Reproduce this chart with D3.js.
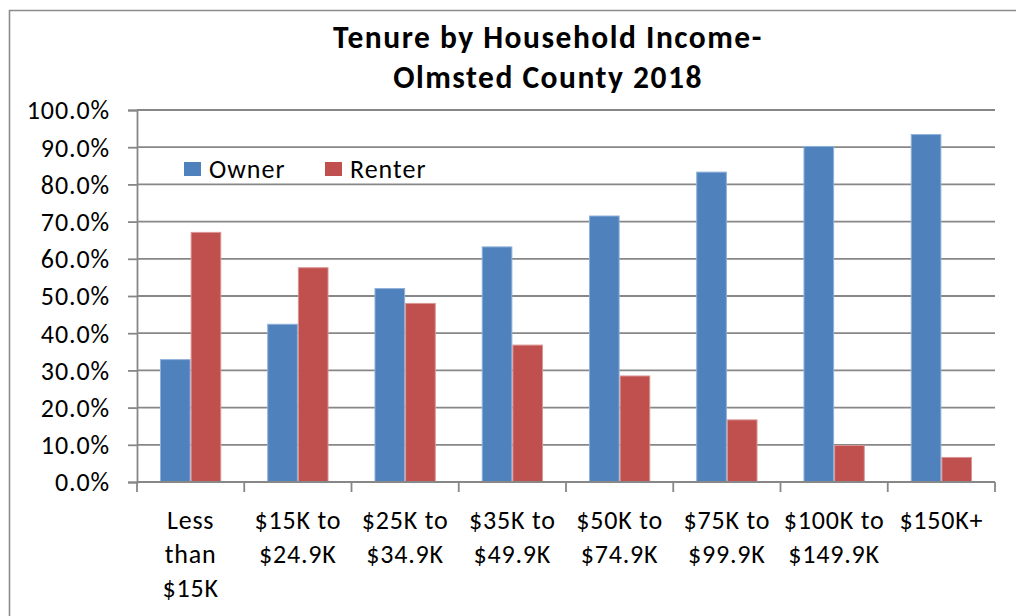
<!DOCTYPE html>
<html>
<head>
<meta charset="utf-8">
<script src="https://cdn.jsdelivr.net/npm/d3@7"></script>
<style>
  html, body { margin: 0; padding: 0; background: #fff; }
  svg { display: block; }
  text { font-family: Carlito, Lato, "Open Sans", sans-serif; fill: #000; }
</style>
</head>
<body>
<svg id="chart" width="1016" height="616"></svg>
<script>
// Household income brackets (multi-line labels)
const categories = [
  ["Less", "than", "$15K"],
  ["$15K to", "$24.9K"],
  ["$25K to", "$34.9K"],
  ["$35K to", "$49.9K"],
  ["$50K to", "$74.9K"],
  ["$75K to", "$99.9K"],
  ["$100K to", "$149.9K"],
  ["$150K+"]
];
// Share of households (%) by tenure
const owner  = [32.9, 42.4, 52.0, 63.2, 71.5, 83.3, 90.2, 93.4];
const renter = [67.1, 57.6, 48.0, 36.8, 28.5, 16.7, 9.8, 6.6];
const seriesNames = ["Owner", "Renter"];
const seriesColors = ["#4F81BD", "#C0504D"];
const seriesStroke = ["#8FB0D9", "#D99594"];
const yTicks = [0, 10, 20, 30, 40, 50, 60, 70, 80, 90, 100];
const titleLines = ["Tenure by Household Income-", "Olmsted County 2018"];

const svg = d3.select("#chart");
const plot = { left: 137, right: 995, top: 110, bottom: 482 };
const grid = "#878787";

// Chart frame
svg.append("path")
  .attr("d", `M9.5,${630} V10.5 H${1030}`)
  .attr("fill", "none").attr("stroke", "#8c8c8c").attr("stroke-width", 1.6);

// Title
const title = svg.append("text")
  .attr("text-anchor", "middle")
  .attr("font-weight", "bold")
  .attr("font-size", 31.5)
  .attr("letter-spacing", 1.5);
titleLines.forEach((t, i) => {
  title.append("tspan").attr("x", 548).attr("y", 48 + i * 40).text(t);
});

const keys = categories.map((c, i) => i);
const x = d3.scaleBand().domain(keys).range([plot.left, plot.right]).paddingInner(0).paddingOuter(0);
const y = d3.scaleLinear().domain([0, 100]).range([plot.bottom, plot.top]);
// Clustered bars: gap of 150% of one bar width between clusters
const barW = x.bandwidth() / 3.5;
const xs = d3.scaleBand().domain([0, 1]).range([barW * 0.75, barW * 2.75]).padding(0);

// Horizontal gridlines
svg.append("g")
  .selectAll("line")
  .data(yTicks.filter(v => v > 0))
  .join("line")
  .attr("x1", plot.left).attr("x2", plot.right)
  .attr("y1", d => y(d)).attr("y2", d => y(d))
  .attr("stroke", grid).attr("stroke-width", 1.8);

// Y axis
const yAxis = d3.axisLeft(y).tickValues(yTicks)
  .tickFormat(d => d3.format(".1f")(d) + "%")
  .tickSize(9).tickPadding(18);
const yg = svg.append("g").attr("transform", `translate(${plot.left},0)`).call(yAxis);
yg.select(".domain").attr("stroke", grid).attr("stroke-width", 1.8);
yg.selectAll(".tick line").attr("stroke", grid).attr("stroke-width", 1.8);
yg.selectAll(".tick text").attr("font-size", 26).attr("letter-spacing", 0.9).attr("dy", "0.34em")
  .attr("font-family", "Carlito, Lato, 'Open Sans', sans-serif").attr("fill", "#000");

// Bars
const groups = svg.append("g").selectAll("g")
  .data(keys).join("g")
  .attr("transform", d => `translate(${x(d)},0)`);
groups.selectAll("rect")
  .data(i => [owner[i], renter[i]].map((v, s) => ({ v, s })))
  .join("rect")
  .attr("x", d => xs(d.s) + 0.5)
  .attr("width", xs.bandwidth() - 1)
  .attr("y", d => y(d.v))
  .attr("height", d => y(0) - y(d.v))
  .attr("fill", d => seriesColors[d.s])
  .attr("stroke", d => seriesStroke[d.s])
  .attr("stroke-width", 1);

// X axis (category boundaries as tick marks)
const xg = svg.append("g").attr("transform", `translate(0,${plot.bottom})`);
xg.append("line").attr("x1", plot.left).attr("x2", plot.right)
  .attr("stroke", grid).attr("stroke-width", 1.8);
xg.selectAll(".bound").data(keys.concat([keys.length]))
  .join("line")
  .attr("x1", d => d < keys.length ? x(d) : plot.right)
  .attr("x2", d => d < keys.length ? x(d) : plot.right)
  .attr("y1", 0).attr("y2", 10)
  .attr("stroke", grid).attr("stroke-width", 1.8);
const labels = xg.selectAll(".lab").data(keys).join("text")
  .attr("text-anchor", "middle")
  .attr("font-size", 26)
  .attr("letter-spacing", 0.8);
labels.each(function (i) {
  categories[i].forEach((line, j) => {
    d3.select(this).append("tspan")
      .attr("x", x(i) + x.bandwidth() / 2)
      .attr("y", 47 + j * 34)
      .text(line);
  });
});

// Legend
const legendX = [184, 325];
const legend = svg.append("g");
seriesNames.forEach((name, s) => {
  legend.append("rect")
    .attr("x", legendX[s]).attr("y", 162)
    .attr("width", 17).attr("height", 14)
    .attr("fill", seriesColors[s]);
  legend.append("text")
    .attr("x", legendX[s] + 25).attr("y", 178)
    .attr("font-size", 26)
    .attr("letter-spacing", 1)
    .text(name);
});
</script>
</body>
</html>
